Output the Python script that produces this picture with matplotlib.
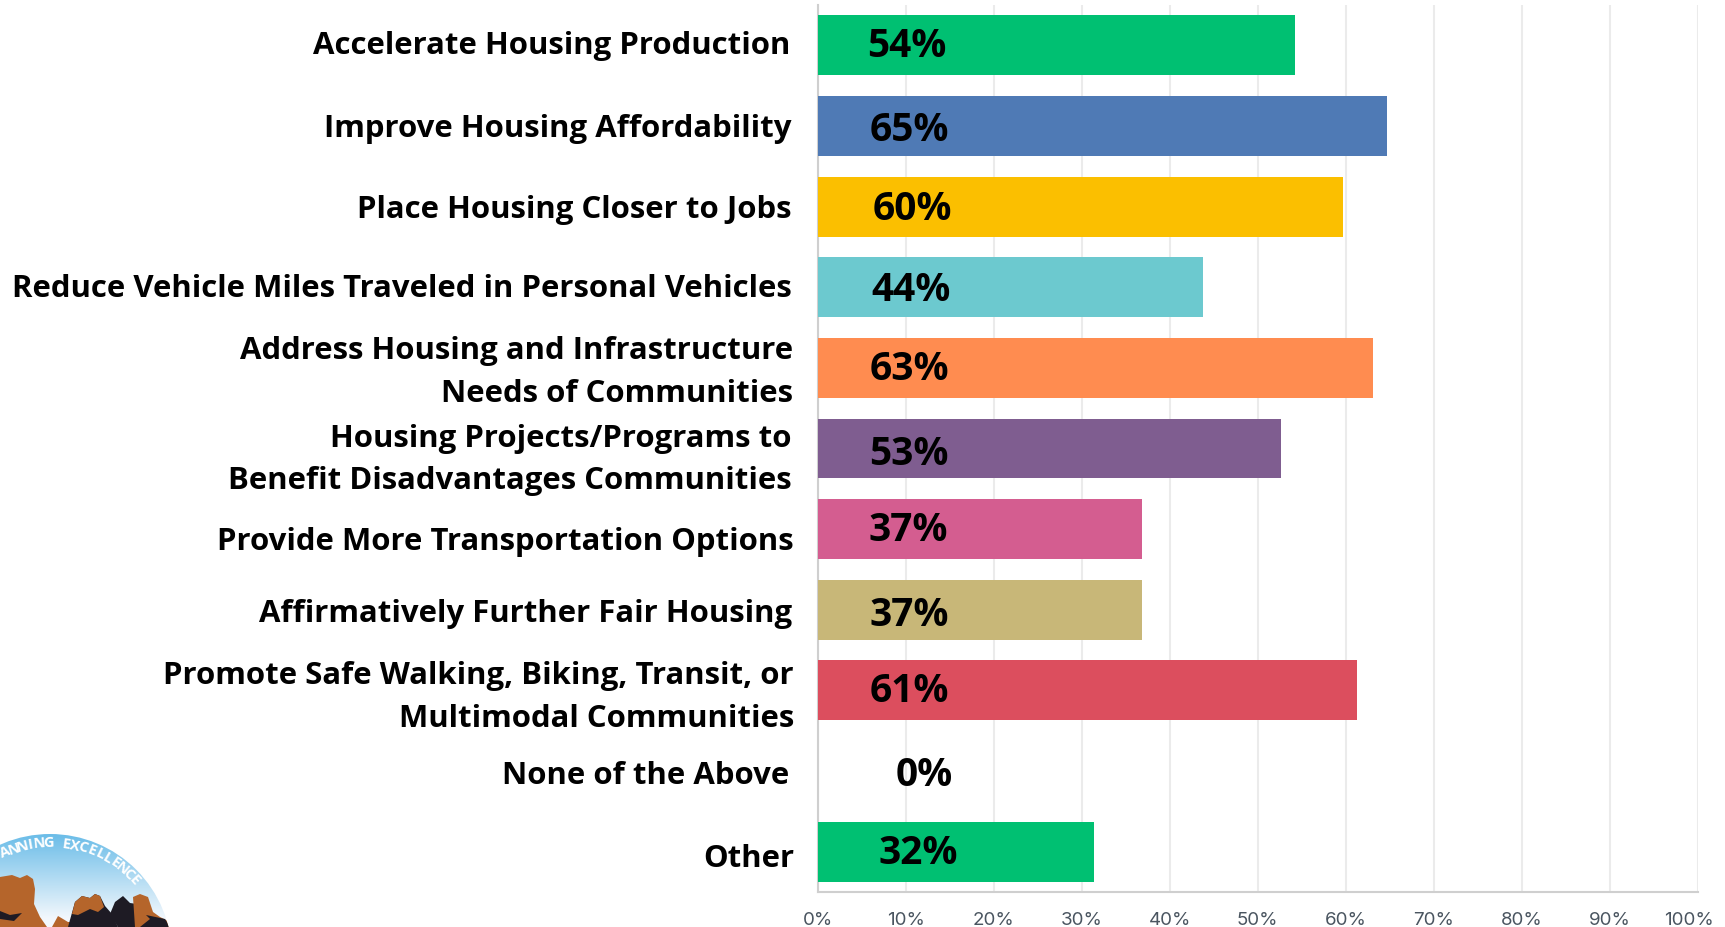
"""
Horizontal bar chart of housing and transportation objectives, with a corner logo.
"""

import matplotlib
matplotlib.use('Agg')
import matplotlib.pyplot as plt
import matplotlib.patches as patches
import numpy as np
from matplotlib.transforms import ScaledTranslation

categories = [
    'Accelerate Housing Production',
    'Improve Housing Affordability',
    'Place Housing Closer to Jobs',
    'Reduce Vehicle Miles Traveled in Personal Vehicles',
    'Address Housing and Infrastructure\nNeeds of Communities',
    'Housing Projects/Programs to\nBenefit Disadvantages Communities',
    'Provide More Transportation Options',
    'Affirmatively Further Fair Housing',
    'Promote Safe Walking, Biking, Transit, or\nMultimodal Communities',
    'None of the Above',
    'Other',
]
bar_values = [54.2, 64.7, 59.7, 43.8, 63.1, 52.6, 36.8, 36.8, 61.3, 0, 31.4]
shown_labels = ['54%', '65%', '60%', '44%', '63%', '53%', '37%', '37%', '61%', '0%', '32%']
bar_colors = ['#00C072', '#4F7AB5', '#FBBF00', '#6CC9CF', '#FF8C50', '#7F5D90',
              '#D45D90', '#C8B778', '#DC4E5E', '#FFFFFF', '#00C072']
tick_values = [0, 10, 20, 30, 40, 50, 60, 70, 80, 90, 100]

# pixel nudges of the hand-placed text in the original slide
cat_dx = [-2, 0, 0, 0, 1, 0, 2, 0, 2, -3, 2]
cat_dy = [0, 2, 2, 1, 3.5, 10.5, 12, 3, 6, 4, 6]
pct_x = [907, 909, 912, 911, 909, 909, 908, 909, 909, 924, 918]
pct_dy = [0, 4, 2, 2, 1, 5, 0, 5, 0, 3, 1]

W, H = 1725, 928


def add_logo(fig):
    # rough drawing of the logo cut off in the bottom left corner
    ax = fig.add_axes([0, 0, 200 / W, 110 / H])
    ax.set_xlim(0, 200)
    ax.set_ylim(928, 818)
    ax.axis('off')
    cx, cy, r = 50, 957, 122
    circle = patches.Circle((cx, cy), r, transform=ax.transData, fc='none', ec='none')
    ax.add_patch(circle)
    grad = np.linspace(0, 1, 100).reshape(-1, 1)
    sky = np.zeros((100, 1, 3))
    top = np.array([0.42, 0.74, 0.91])
    bottom = np.array([0.95, 0.97, 0.99])
    sky[:, :, :] = top + (bottom - top) * np.clip(grad * 1.1, 0, 1)[:, :, None]
    im = ax.imshow(sky, extent=(0, 200, 928, 835), aspect='auto', zorder=1)
    im.set_clip_path(circle)
    ax.set_xlim(0, 200)
    ax.set_ylim(928, 818)
    brown = '#B5652B'
    dark = '#1E1B24'
    rocks = [
        ([0, 6, 12, 20, 27, 33, 35, 34, 40, 47, 0], [878, 877, 876, 879, 876, 880, 890, 905, 918, 928, 928], brown),
        ([0, 10, 22, 14, 0], [912, 916, 914, 922, 920], dark),
        ([52, 58, 68, 112, 112], [928, 917, 923, 923, 928], brown),
        ([68, 75, 82, 90, 95, 100, 105, 112, 118, 118, 68], [928, 903, 897, 899, 895, 897, 907, 915, 928, 928, 928], dark),
        ([75, 82, 90, 95, 100, 104, 98, 90, 78, 72], [903, 897, 899, 895, 897, 908, 913, 910, 916, 915], brown),
        ([110, 115, 123, 130, 137, 137, 128, 118], [915, 903, 897, 904, 905, 928, 928, 928], dark),
        ([133, 140, 148, 153, 160, 170, 170, 135], [898, 895, 898, 913, 918, 923, 928, 928], brown),
        ([140, 150, 146, 165, 170, 142], [928, 920, 916, 920, 928, 928], dark),
    ]
    for xs, ys, col in rocks:
        poly = patches.Polygon(np.column_stack([xs, ys]), closed=True, fc=col, ec='none', zorder=2)
        ax.add_patch(poly)
        poly.set_clip_path(circle)
    # curved text, one letter at a time
    word = 'ANNING EXCELLENCE'
    angles = np.linspace(-23, 48, len(word))
    for ch, a in zip(word, angles):
        t = np.radians(a)
        ax.text(cx + 114 * np.sin(t), cy - 114 * np.cos(t), ch, rotation=-a, ha='center', va='center',
                fontsize=10.5, color='white', family='Open Sans', fontweight='bold', zorder=3, clip_on=True)


def main():
    fig = plt.figure(figsize=(W / 100, H / 100), dpi=100)
    ax = fig.add_axes([817.5 / W, 1 - 893 / H, 880.5 / W, 887 / H])
    y = np.arange(len(categories))
    ax.barh(y, bar_values, height=0.744, color=bar_colors, zorder=3)
    ax.set_xlim(0, 100)
    ax.set_ylim(len(categories) - 0.5, -0.5)
    ax.grid(axis='x', color='#EBEBEB', lw=1.5, zorder=0)
    ax.set_axisbelow(True)
    for side in ['top', 'right']:
        ax.spines[side].set_visible(False)
    for side in ['left', 'bottom']:
        ax.spines[side].set_color('#CFCFCF')
        ax.spines[side].set_linewidth(1.5)

    ax.set_xticks(tick_values, labels=[f'{t}%' for t in tick_values])
    ax.tick_params(axis='x', length=0, pad=14, labelsize=13.5, labelcolor='#4A5560')
    for lab in ax.get_xticklabels():
        lab.set_family('Inter')
    ax.get_xticklabels()[-1].set_ha('right')
    ax.get_xticklabels()[-1].set_transform(
        ax.get_xticklabels()[-1].get_transform() + ScaledTranslation(16 / 100, 0, fig.dpi_scale_trans))

    ax.set_yticks(y, labels=categories)
    ax.tick_params(axis='y', length=0, pad=18.4)
    for lab, dx, dy in zip(ax.get_yticklabels(), cat_dx, cat_dy):
        lab.set_family('Open Sans')
        lab.set_fontweight('bold')
        lab.set_fontsize(22.4)
        lab.set_color('black')
        lab.set_linespacing(1.55)
        lab.set_verticalalignment('center')
        lab.set_transform(lab.get_transform() + ScaledTranslation(dx / 100, -dy / 100, fig.dpi_scale_trans))

    for i, (txt, px, dy) in enumerate(zip(shown_labels, pct_x, pct_dy)):
        ax.text((px - 817.5) / 880.5 * 100, i, txt, ha='center', va='center', fontsize=28,
                family='Open Sans', fontweight='bold', color='black', zorder=4,
                transform=ax.transData + ScaledTranslation(0, -dy / 100, fig.dpi_scale_trans))

    add_logo(fig)
    fig.savefig('out.png', dpi=100, facecolor='white')
    plt.close()


if __name__ == "__main__":
    main()
